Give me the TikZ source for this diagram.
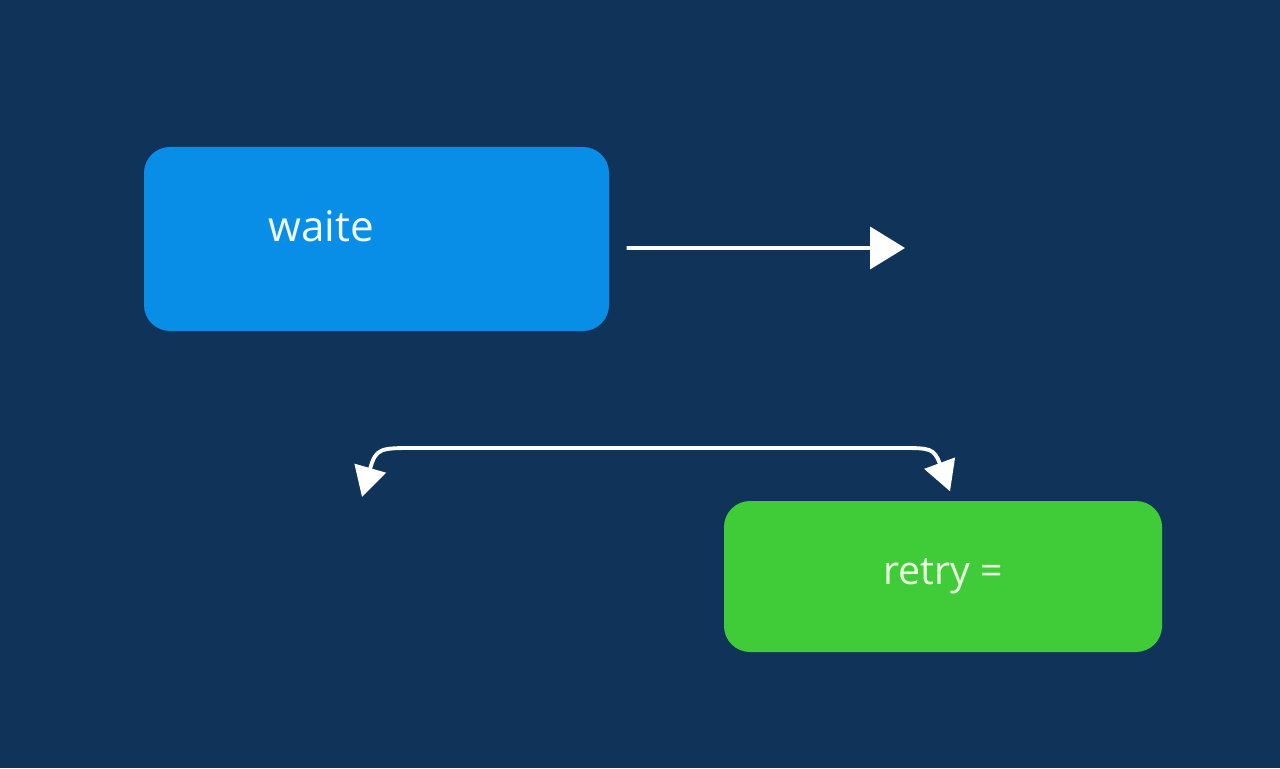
\documentclass[tikz,border=0pt]{standalone}
\usepackage{fontspec}
\setmainfont{Open Sans}
\usepackage{tikz}
\usetikzlibrary{positioning, arrows.meta, calc}
\definecolor{bgnavy}{HTML}{10335A}
\definecolor{boxblue}{HTML}{098EE8}
\definecolor{boxgreen}{HTML}{40CC38}
\definecolor{paleblue}{HTML}{EEF7FF}
\definecolor{palegreen}{HTML}{EAFFE2}
\tikzset{
	bluenode/.style={
			rectangle,
			rounded corners=2.6mm,
			fill=boxblue,
			draw=none,
			minimum width=46.5mm,
			minimum height=18.4mm,
			inner sep=0pt
		},
	greennode/.style={
			bluenode,
			fill=boxgreen,
			minimum width=43.8mm,
			minimum height=15.1mm,
			text=palegreen,
			font=\fontsize{11.2}{13}\selectfont
		},
	labelnode/.style={
			inner sep=0pt,
			text=paleblue,
			font=\fontsize{12}{14}\selectfont
		},
	whitearrow/.style={
			draw=white,
			line width=1.1pt,
			-{Triangle[length=3.5mm,width=4.2mm]}
		},
	twowayarrow/.style={
			draw=white,
			line width=1.1pt,
			{Triangle[length=3mm,width=3.2mm]}-{Triangle[length=3mm,width=3.2mm]}
		}
}

\begin{document}
\begin{tikzpicture}
\fill[bgnavy] (0,0) rectangle (12.8,7.68);
\node[bluenode] (wbox) at (3.765,5.29) {};
\node[labelnode, anchor=base west] (wtext) at (2.68,5.26) {waite};
\node[greennode] (retry) at (9.43,1.915) {retry =};

\coordinate (wout) at (9.05,5.20);
\coordinate (ltip) at (3.62,2.71);
\coordinate (rtip) at ([xshift=0.7mm,yshift=0.9mm]retry.north);

\draw[whitearrow, shorten <=1.7mm] ([yshift=-0.9mm]wbox.east) -- (wout);
\draw[twowayarrow] (ltip) .. controls (3.76,3.20) and (3.80,3.20) .. (4.15,3.20)
	-- (9.00,3.20) .. controls (9.30,3.20) and (9.34,3.20) .. (rtip);
\end{tikzpicture}
\end{document}
